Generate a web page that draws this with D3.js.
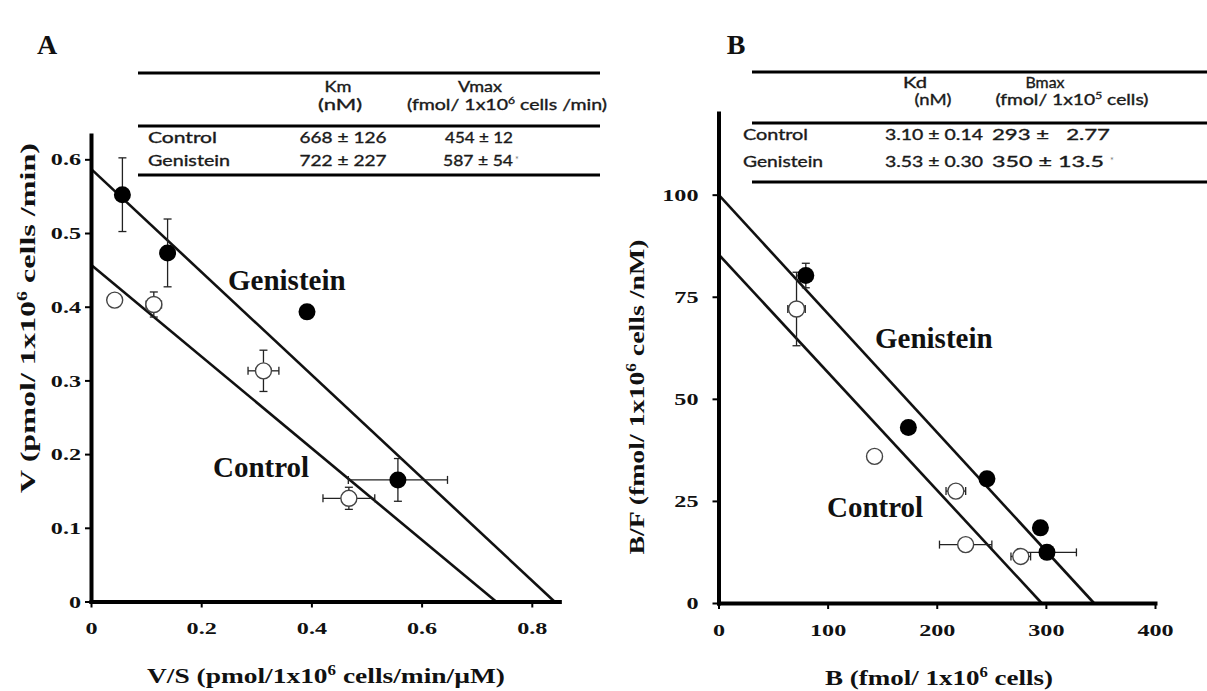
<!DOCTYPE html>
<html><head><meta charset="utf-8">
<script src="https://cdn.jsdelivr.net/npm/d3@7"></script>
<style>body{margin:0;background:#fff;} svg{display:block;}</style>
</head><body><svg id="c" width="1207" height="691"></svg>
<script>
// ---------------- data ----------------
// Panel A (Eadie-Hofstee)
const aXTicks = [0, 0.2, 0.4, 0.6, 0.8];
const aYTicks = [0, 0.1, 0.2, 0.3, 0.4, 0.5, 0.6];
const aGenX = [0.057, 0.139, 0.392, 0.557];
const aGenY = [0.552, 0.473, 0.393, 0.165];
const aGenYErr = [0.050, 0.046, 0, 0.029];
const aGenXErr = [0, 0, 0, 0.090];
const aConX = [0.043, 0.114, 0.313, 0.468];
const aConY = [0.409, 0.403, 0.313, 0.140];
const aConYErr = [0, 0.017, 0.028, 0.015];
const aConXErr = [0, 0.014, 0.028, 0.047];
const aGenLine = [0.587, 0.841];   // [y-intercept, x-intercept]
const aConLine = [0.457, 0.735];
const aTableHead = ["Km", "(nM)", "Vmax"];
const aTableRows = ["Control", "Genistein"];
const aTableKm = ["668 \u00B1 126", "722 \u00B1 227"];
const aTableVmax = ["454 \u00B1 12", "587 \u00B1 54"];

// Panel B (Scatchard)
const bXTicks = [0, 100, 200, 300, 400];
const bYTicks = [0, 25, 50, 75, 100];
const bGenX = [80, 174, 246, 295, 301];
const bGenY = [80.2, 43.0, 30.4, 18.4, 12.4];
const bGenYErr = [3, 0, 0, 0, 0];
const bGenXErr = [0, 0, 0, 0, 27];
const bConX = [71.5, 143, 217.5, 226.5, 277];
const bConY = [72.0, 35.9, 27.4, 14.3, 11.4];
const bConYErr = [9, 0, 0, 0, 0];
const bConXErr = [8, 0, 9, 24, 9];
const bGenLine = [100, 344];
const bConLine = [85.4, 296];
const bTableHead = ["Kd", "(nM)", "Bmax"];
const bTableRows = ["Control", "Genistein"];
const bTableKd = ["3.10 \u00B1 0.14", "3.53 \u00B1 0.30"];
const bTableBmax = ["293 \u00B1\u00A0\u00A0 2.77", "350 \u00B1 13.5"];

// ---------------- drawing ----------------
const svg = d3.select("#c");
svg.append("rect").attr("width", 1207).attr("height", 691).attr("fill", "#fff");
const SERIF = "'Liberation Serif','Times New Roman',serif";
const SANS = "Lato,'Open Sans',sans-serif";

function fit(sel, w) { sel.attr("textLength", w).attr("lengthAdjust", "spacingAndGlyphs"); return sel; }
function stretch(sel, k) {
  sel.each(function () {
    const L = this.getComputedTextLength();
    d3.select(this).attr("textLength", L * k).attr("lengthAdjust", "spacingAndGlyphs");
  });
}
function supText(t, before, sup, after, fs) {
  t.append("tspan").text(before);
  t.append("tspan").attr("dy", -fs * 0.38).attr("font-size", fs * 0.62).text(sup);
  t.append("tspan").attr("dy", fs * 0.38).text(after);
}

function panel(cfg) {
  const g = svg.append("g");
  const x = cfg.x, y = cfg.y;
  // regression lines
  [cfg.genLine, cfg.conLine].forEach(l => {
    g.append("line").attr("x1", x(0)).attr("y1", y(l[0])).attr("x2", x(l[1])).attr("y2", y(0))
      .attr("stroke", "#111").attr("stroke-width", 2.6);
  });
  // axes
  const gx = g.append("g").attr("transform", `translate(0,${y(0)})`)
    .call(d3.axisBottom(x).tickValues(cfg.xTicks).tickFormat(cfg.xFmt).tickSize(6).tickSizeOuter(0).tickPadding(cfg.xPad));
  const gy = g.append("g").attr("transform", `translate(${x(0)},0)`)
    .call(d3.axisLeft(y).tickValues(cfg.yTicks).tickFormat(cfg.yFmt).tickSize(6).tickSizeOuter(0).tickPadding(cfg.yPad));
  [gx, gy].forEach(a => {
    a.select(".domain").attr("stroke", "#000").attr("stroke-width", 4).attr("stroke-linecap", "square");
    a.selectAll(".tick line").attr("stroke", "#000").attr("stroke-width", 2);
    a.selectAll(".tick text").attr("font-family", SERIF).attr("font-weight", "bold")
      .attr("font-size", 17.5).attr("fill", "#111");
    stretch(a.selectAll(".tick text"), 1.38);
  });
  // error bars
  const cap = 4;
  function errs(X, Y, XE, YE) {
    X.forEach((xv, i) => {
      if (YE[i] > 0) {
        const y1 = y(Y[i] - YE[i]), y2 = y(Y[i] + YE[i]), xp = x(xv);
        g.append("line").attr("x1", xp).attr("x2", xp).attr("y1", y1).attr("y2", y2).attr("stroke", "#222").attr("stroke-width", 1.3);
        [y1, y2].forEach(yy => g.append("line").attr("x1", xp - cap).attr("x2", xp + cap).attr("y1", yy).attr("y2", yy).attr("stroke", "#222").attr("stroke-width", 1.3));
      }
      if (XE[i] > 0) {
        const x1 = x(xv - XE[i]), x2 = x(xv + XE[i]), yp = y(Y[i]);
        g.append("line").attr("x1", x1).attr("x2", x2).attr("y1", yp).attr("y2", yp).attr("stroke", "#222").attr("stroke-width", 1.3);
        [x1, x2].forEach(xx => g.append("line").attr("x1", xx).attr("x2", xx).attr("y1", yp - cap).attr("y2", yp + cap).attr("stroke", "#222").attr("stroke-width", 1.3));
      }
    });
  }
  errs(cfg.genX, cfg.genY, cfg.genXErr, cfg.genYErr);
  errs(cfg.conX, cfg.conY, cfg.conXErr, cfg.conYErr);
  // points
  g.selectAll("circle.con").data(d3.range(cfg.conX.length)).join("circle").attr("class", "con")
    .attr("cx", i => x(cfg.conX[i])).attr("cy", i => y(cfg.conY[i])).attr("r", 8)
    .attr("fill", "#fff").attr("stroke", "#444").attr("stroke-width", 1.4);
  g.selectAll("circle.gen").data(d3.range(cfg.genX.length)).join("circle").attr("class", "gen")
    .attr("cx", i => x(cfg.genX[i])).attr("cy", i => y(cfg.genY[i])).attr("r", 8.5)
    .attr("fill", "#000");
  // in-plot labels
  g.append("text").attr("x", cfg.genLab[0]).attr("y", cfg.genLab[1]).text("Genistein")
    .attr("font-family", SERIF).attr("font-weight", "bold").attr("font-size", 29).attr("fill", "#111");
  g.append("text").attr("x", cfg.conLab[0]).attr("y", cfg.conLab[1]).text("Control")
    .attr("font-family", SERIF).attr("font-weight", "bold").attr("font-size", 29).attr("fill", "#111");
  // titles
  const xt = g.append("text").attr("x", cfg.xTitle[0]).attr("y", cfg.xTitle[1]).attr("text-anchor", "middle")
    .attr("font-family", SERIF).attr("font-weight", "bold").attr("font-size", 22).attr("fill", "#111");
  supText(xt, cfg.xTitleParts[0], "6", cfg.xTitleParts[1], 22);
  fit(xt, cfg.xTitle[2]);
  const yt = g.append("text").attr("transform", `translate(${cfg.yTitle[0]},${cfg.yTitle[1]}) rotate(-90)`)
    .attr("text-anchor", "middle")
    .attr("font-family", SERIF).attr("font-weight", "bold").attr("font-size", 22).attr("fill", "#111");
  supText(yt, cfg.yTitleParts[0], "6", cfg.yTitleParts[1], 22);
  fit(yt, cfg.yTitle[2]);
  // panel letter
  g.append("text").attr("x", cfg.letter[0]).attr("y", cfg.letter[1]).attr("text-anchor", "middle").text(cfg.letter[2])
    .attr("font-family", SERIF).attr("font-weight", "bold").attr("font-size", 28).attr("fill", "#111");
}

function table(cfg) {
  const g = svg.append("g").attr("font-family", SANS).attr("fill", "#1a1a1a").attr("font-size", 15)
    .attr("stroke", "#1a1a1a").attr("stroke-width", 0.35);
  cfg.lines.forEach(ly => g.append("line").attr("x1", cfg.x0).attr("x2", cfg.x1).attr("y1", ly).attr("y2", ly)
    .attr("stroke", "#000").attr("stroke-width", 3.2));
  function txt(x, y, s, w, anchor) {
    const t = g.append("text").attr("x", x).attr("y", y).attr("text-anchor", anchor || "middle").text(s);
    fit(t, w); return t;
  }
  txt(cfg.h1[0], cfg.hy[0], cfg.head[0], cfg.h1[1]);
  txt(cfg.h2[0], cfg.hy[1], cfg.head[1], cfg.h2[1]);
  txt(cfg.h3[0], cfg.hy[0], cfg.head[2], cfg.h3[1]);
  const u = g.append("text").attr("x", cfg.h4[0]).attr("y", cfg.hy[1]).attr("text-anchor", "middle");
  supText(u, "(fmol/ 1x10", cfg.supDigit, cfg.unitTail, 15);
  fit(u, cfg.h4[1]);
  cfg.rows.forEach((r, i) => {
    txt(cfg.rowX, cfg.ry[i], r, cfg.rowW[i], "start");
    txt(cfg.c1[0], cfg.ry[i], cfg.col1[i], cfg.c1[1]);
    txt(cfg.c2[i][0], cfg.ry[i], cfg.col2[i], cfg.c2[i][1], "start");
    if (i === 1) {
      g.append("text").attr("x", cfg.c2[i][0] + cfg.c2[i][1] + cfg.starGap).attr("y", cfg.ry[i] - 3)
        .attr("font-size", 9).attr("fill", "#777").attr("stroke", "none").text("*");
    }
  });
}

const ax = d3.scaleLinear().domain([0, 0.85]).range([91, 91 + 0.85 * 551]);
const ay = d3.scaleLinear().domain([0, 0.633]).range([601.5, 135]);
panel({
  x: ax, y: ay, xTicks: aXTicks, yTicks: aYTicks,
  xFmt: d => d === 0 ? "0" : d3.format(".1f")(d), yFmt: d => d === 0 ? "0" : d3.format(".1f")(d),
  xPad: 14, yPad: 4,
  genX: aGenX, genY: aGenY, genXErr: aGenXErr, genYErr: aGenYErr,
  conX: aConX, conY: aConY, conXErr: aConXErr, conYErr: aConYErr,
  genLine: aGenLine, conLine: aConLine,
  genLab: [228, 290], conLab: [213, 477],
  xTitle: [326, 683, 358], xTitleParts: ["V/S (pmol/1x10", " cells/min/\u00B5M)"],
  yTitle: [35, 318, 350], yTitleParts: ["V (pmol/ 1x10", " cells /min)"],
  letter: [47, 54, "A"]
});

const bx = d3.scaleLinear().domain([0, 400]).range([718.5, 1155]);
const by = d3.scaleLinear().domain([0, 120]).range([603, 113]);
panel({
  x: bx, y: by, xTicks: bXTicks, yTicks: bYTicks,
  xFmt: d3.format("d"), yFmt: d3.format("d"),
  xPad: 15, yPad: 14,
  genX: bGenX, genY: bGenY, genXErr: bGenXErr, genYErr: bGenYErr,
  conX: bConX, conY: bConY, conXErr: bConXErr, conYErr: bConYErr,
  genLine: bGenLine, conLine: bConLine,
  genLab: [875, 348], conLab: [827, 517],
  xTitle: [939, 685, 228], xTitleParts: ["B (fmol/ 1x10", " cells)"],
  yTitle: [644, 397, 315], yTitleParts: ["B/F (fmol/ 1x10", " cells /nM)"],
  letter: [736, 54, "B"]
});

table({
  x0: 138, x1: 600, lines: [73, 126, 175],
  head: aTableHead, hy: [92, 110],
  h1: [338, 27], h2: [340, 44], h3: [480, 44], h4: [507, 200],
  supDigit: "6", unitTail: " cells /min)",
  rows: aTableRows, rowX: 148, rowW: [69, 82], ry: [143, 166],
  col1: aTableKm, c1: [343, 87],
  col2: aTableVmax, c2: [[445, 68], [443, 70]], starGap: 2
});
table({
  x0: 752, x1: 1207, lines: [72, 123, 182],
  head: bTableHead, hy: [88, 105],
  h1: [915, 24], h2: [933, 37], h3: [1045, 39], h4: [1072, 153],
  supDigit: "5", unitTail: " cells)",
  rows: bTableRows, rowX: 743, rowW: [65, 80], ry: [140, 167],
  col1: bTableKd, c1: [934, 98],
  col2: bTableBmax, c2: [[992, 118], [992, 112]], starGap: 6
});
</script></body></html>
